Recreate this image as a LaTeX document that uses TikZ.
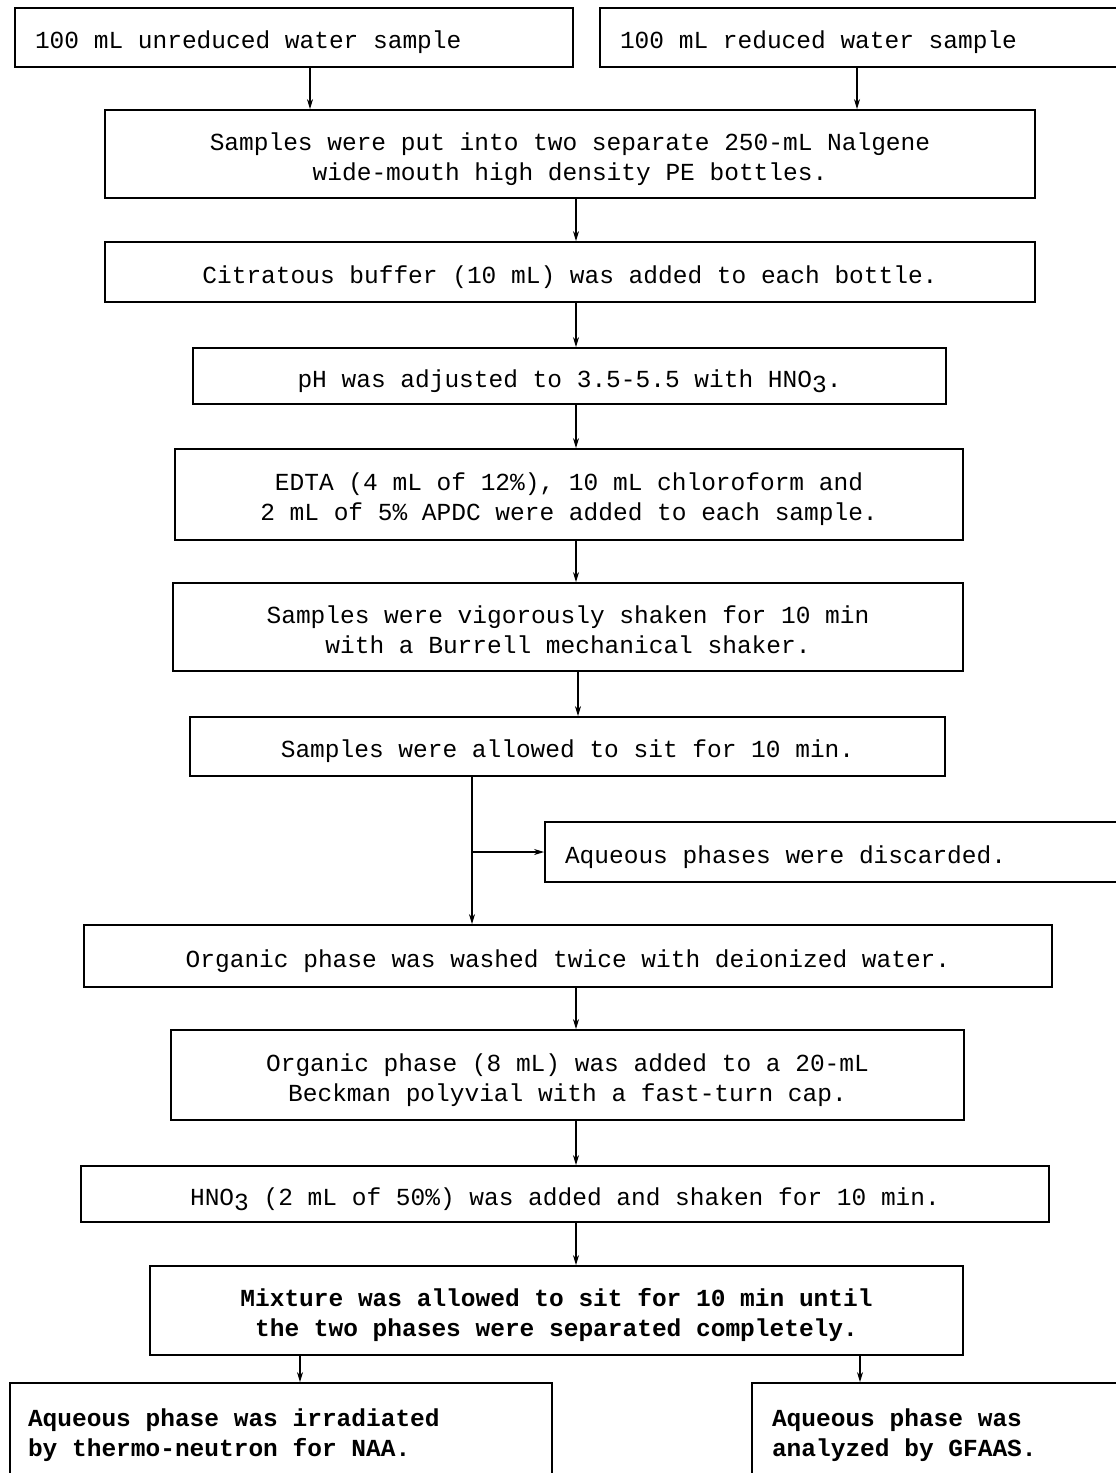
\documentclass[tikz,border=0pt]{standalone}
\usepackage{fontspec}
\setmonofont{Liberation Mono}
\usetikzlibrary{arrows.meta}
\newcommand\mysubsc[1]{\raisebox{-5pt}{#1}}
\newcommand\ctext[1]{\raisebox{0pt}[\dimexpr\height+10pt\relax][\depth]{\spaceskip=0pt\xspaceskip=0pt\begin{tabular}{@{}c@{}}#1\end{tabular}}}
\newcommand\ltext[2]{\makebox[#1][l]{\raisebox{0pt}[\dimexpr\height+10pt\relax][\depth]{\spaceskip=0pt\xspaceskip=0pt\begin{tabular}{@{}l@{}}#2\end{tabular}}}}
\begin{document}
\begin{tikzpicture}[x=1pt,y=-1pt,
  box/.style={draw, line width=1.8pt, inner sep=0pt, font=\ttfamily\fontsize{24.5}{30}\selectfont},
  bbox/.style={box, font=\ttfamily\bfseries\fontsize{24.5}{30}\selectfont},
  arr/.style={line width=1.3pt, -{Stealth[length=10pt,width=6pt]}}]
\clip (0,0) rectangle (1116,1473);
\fill[white] (0,0) rectangle (1116,1473);

\node[box, minimum width=558pt, minimum height=59pt] (A) at (294,37.5) {\ltext{518pt}{100 mL unreduced water sample}};
\node[box, minimum width=530pt, minimum height=59pt] (B) at (865,37.5) {\ltext{490pt}{100 mL reduced water sample}};
\node[box, minimum width=930pt, minimum height=88pt] (C) at (570,154) {\ctext{Samples were put into two separate 250-mL Nalgene\\wide-mouth high density PE bottles.}};
\node[box, minimum width=930pt, minimum height=60pt] (D) at (570,272) {\ctext{Citratous buffer (10 mL) was added to each bottle.}};
\node[box, minimum width=753pt, minimum height=56pt] (E) at (569.5,376) {\ctext{pH was adjusted to 3.5-5.5 with HNO\mysubsc{3}.}};
\node[box, minimum width=788pt, minimum height=91pt] (F) at (569,494.5) {\ctext{EDTA (4 mL of 12\%), 10 mL chloroform and\\2 mL of 5\% APDC were added to each sample.}};
\node[box, minimum width=790pt, minimum height=88pt] (G) at (568,627) {\ctext{Samples were vigorously shaken for 10 min\\with a Burrell mechanical shaker.}};
\node[box, minimum width=755pt, minimum height=59pt] (H) at (567.5,746.5) {\ctext{Samples were allowed to sit for 10 min.}};
\node[box, minimum width=585pt, minimum height=60pt] (I) at (837.5,852) {\ltext{545pt}{Aqueous phases were discarded.}};
\node[box, minimum width=968pt, minimum height=62pt] (J) at (568,956) {\ctext{Organic phase was washed twice with deionized water.}};
\node[box, minimum width=793pt, minimum height=90pt] (K) at (567.5,1075) {\ctext{Organic phase (8 mL) was added to a 20-mL\\Beckman polyvial with a fast-turn cap.}};
\node[box, minimum width=968pt, minimum height=56pt] (L) at (565,1194) {\ctext{HNO\mysubsc{3} (2 mL of 50\%) was added and shaken for 10 min.}};
\node[bbox, minimum width=813pt, minimum height=89pt] (M) at (556.5,1310.5) {\ctext{Mixture was allowed to sit for 10 min until\\the two phases were separated completely.}};
\node[bbox, minimum width=542pt, minimum height=95pt] (N) at (281,1430.5) {\ltext{506pt}{Aqueous phase was irradiated\\by thermo-neutron for NAA.}};
\node[bbox, minimum width=378pt, minimum height=95pt] (O) at (941,1430.5) {\ltext{338pt}{Aqueous phase was\\analyzed by GFAAS.}};

\coordinate (xa) at (310,0);
\coordinate (xb) at (857,0);
\coordinate (xc) at (576,0);
\coordinate (xg) at (578,0);
\coordinate (xh) at (472,0);
\coordinate (xn) at (300,0);
\coordinate (xo) at (860,0);

\draw[arr] (xa |- A.south) -- (xa |- C.north);
\draw[arr] (xb |- B.south) -- (xb |- C.north);
\draw[arr] (xc |- C.south) -- (xc |- D.north);
\draw[arr] (xc |- D.south) -- (xc |- E.north);
\draw[arr] (xc |- E.south) -- (xc |- F.north);
\draw[arr] (xc |- F.south) -- (xc |- G.north);
\draw[arr] (xg |- G.south) -- (xg |- H.north);
\draw[arr] (xh |- H.south) -- (xh |- J.north);
\draw[arr] (xh |- I.west) -- (I.west);
\draw[arr] (xc |- J.south) -- (xc |- K.north);
\draw[arr] (xc |- K.south) -- (xc |- L.north);
\draw[arr] (xc |- L.south) -- (xc |- M.north);
\draw[arr] (xn |- M.south) -- (xn |- N.north);
\draw[arr] (xo |- M.south) -- (xo |- O.north);
\end{tikzpicture}
\end{document}
